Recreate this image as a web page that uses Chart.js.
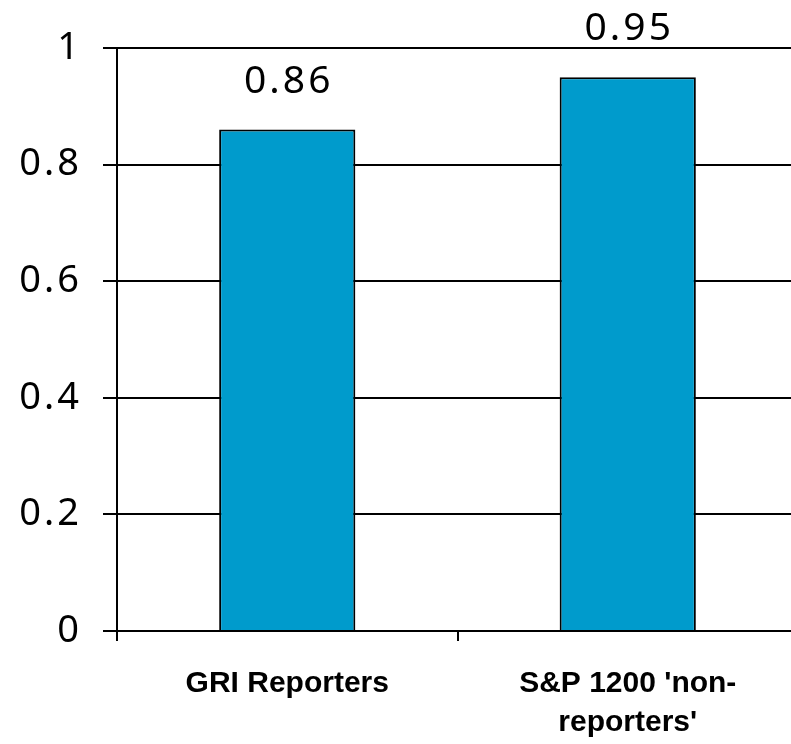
<!DOCTYPE html>
<html>
<head>
<meta charset="utf-8">
<script src="https://cdn.jsdelivr.net/npm/chart.js@4"></script>
<style>
html,body{margin:0;padding:0;background:#fff;overflow:hidden;}
#wrap{width:800px;height:744px;position:relative;}
</style>
</head>
<body>
<div id="wrap"><canvas id="c"></canvas></div>
<script>
const categories = [["GRI Reporters"], ["S&P 1200 'non-", "reporters'"]];
const values = [0.86, 0.95];
const yTicks = [0, 0.2, 0.4, 0.6, 0.8, 1];

const spacing = {
  id: 'spacing',
  beforeDraw(chart) { chart.ctx.letterSpacing = '3px'; },
  beforeDatasetsDraw(chart) { chart.ctx.letterSpacing = '0px'; }
};

const valueLabels = {
  id: 'valueLabels',
  afterDatasetsDraw(chart) {
    const ctx = chart.ctx;
    const meta = chart.getDatasetMeta(0);
    ctx.save();
    ctx.letterSpacing = '3px';
    ctx.font = '39px "Noto Sans"';
    ctx.fillStyle = '#000';
    ctx.textAlign = 'center';
    ctx.textBaseline = 'alphabetic';
    meta.data.forEach((bar, i) => {
      ctx.fillText(String(values[i]), bar.x + 1.5, bar.y - 37);
    });
    ctx.restore();
    ctx.letterSpacing = '0px';
  }
};

new Chart(document.getElementById('c'), {
  type: 'bar',
  data: {
    labels: categories,
    datasets: [{
      data: values,
      backgroundColor: '#009BCC',
      borderColor: '#000',
      borderWidth: 2,
      categoryPercentage: 1,
      barPercentage: 0.4
    }]
  },
  options: {
    responsive: true,
    maintainAspectRatio: false,
    animation: false,
    layout: { padding: { top: 48, right: 2, left: 0, bottom: 0 } },
    plugins: { legend: { display: false }, tooltip: { enabled: false } },
    scales: {
      x: {
        grid: { display: true, drawOnChartArea: false, color: '#000', lineWidth: 2, tickLength: 10, offset: true },
        border: { color: '#000', width: 2 },
        ticks: {
          z: 1,
          color: '#000',
          font: { family: '"Liberation Sans", Arial, sans-serif', size: 30, weight: 'bold', lineHeight: 1.3 },
          padding: 23,
          maxRotation: 0, autoSkip: false
        },
        afterFit(s) { s.height = 113; }
      },
      y: {
        min: 0, max: 1,
        afterBuildTicks(s) { s.ticks = yTicks.map(v => ({ value: v })); },
        grid: { color: '#000', lineWidth: 2, tickLength: 14 },
        border: { color: '#000', width: 2 },
        ticks: {
          color: '#000',
          font: { family: '"Noto Sans", sans-serif', size: 38 },
          padding: 21,
          callback: v => String(v)
        },
        afterFit(s) { s.width = 117; }
      }
    }
  },
  plugins: [spacing, valueLabels]
});
</script>
</body>
</html>
